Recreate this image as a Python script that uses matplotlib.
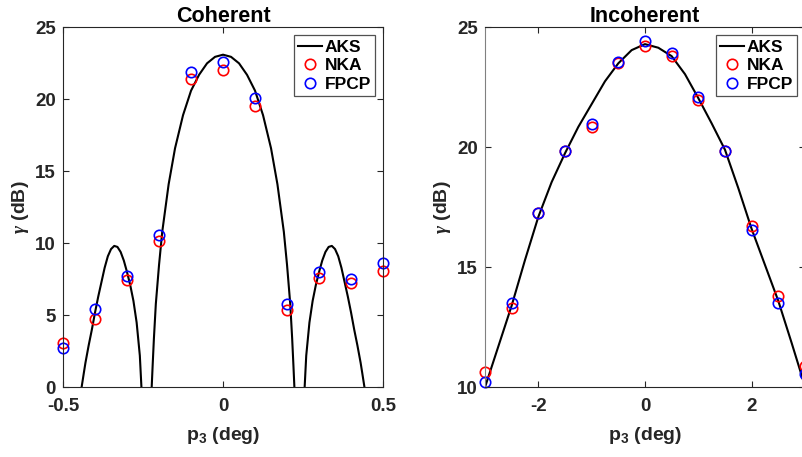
import numpy as np
import matplotlib
matplotlib.use("Agg")
import matplotlib.pyplot as plt

# ---- data ----
# Coherent panel: AKS curve (lobes; values below 0 are clipped by the axis)
aks_coh_x = [-0.446, -0.442, -0.435, -0.43, -0.42, -0.41, -0.40, -0.39, -0.38, -0.37,
             -0.36, -0.35, -0.34, -0.33, -0.32, -0.31, -0.30, -0.29, -0.28, -0.27,
             -0.26, -0.255, -0.252,
             -0.226, -0.223, -0.22, -0.216, -0.21, -0.20, -0.19, -0.17, -0.15, -0.125,
             -0.10, -0.075, -0.05, -0.025, 0.0, 0.025, 0.05, 0.075, 0.10, 0.125, 0.15,
             0.17, 0.19, 0.20, 0.21, 0.216, 0.22, 0.223, 0.226,
             0.252, 0.255, 0.26, 0.27, 0.28, 0.29, 0.30, 0.31, 0.32, 0.33, 0.34, 0.35,
             0.36, 0.37, 0.38, 0.39, 0.40, 0.41, 0.42, 0.43, 0.435, 0.442, 0.446]
aks_coh_y = [-3.0, 0.0, 1.0, 1.7, 2.9, 4.0, 5.2, 6.3, 7.3, 8.3,
             9.1, 9.6, 9.82, 9.75, 9.4, 8.8, 8.0, 7.1, 6.0, 4.5,
             2.2, 0.0, -3.0,
             -3.0, 0.0, 1.5, 3.4, 5.8, 8.5, 10.8, 14.1, 16.6, 18.9,
             20.6, 21.7, 22.5, 22.95, 23.1, 22.95, 22.5, 21.7, 20.6, 18.9, 16.6,
             14.1, 10.8, 8.5, 5.8, 3.4, 1.5, 0.0, -3.0,
             -3.0, 0.0, 2.2, 4.5, 6.0, 7.1, 8.0, 8.8, 9.4, 9.75, 9.82, 9.6,
             9.1, 8.3, 7.3, 6.3, 5.2, 4.0, 2.9, 1.7, 1.0, 0.0, -3.0]

coh_x = [-0.5, -0.4, -0.3, -0.2, -0.1, 0.0, 0.1, 0.2, 0.3, 0.4, 0.5]
coh_nka = [3.05, 4.76, 7.45, 10.16, 21.41, 22.06, 19.53, 5.37, 7.61, 7.22, 8.10]
coh_fpcp = [2.72, 5.41, 7.75, 10.58, 21.87, 22.61, 20.11, 5.76, 7.98, 7.54, 8.61]

# Incoherent panel
aks_inc_x = [-3.0, -2.75, -2.5, -2.25, -2.0, -1.75, -1.5, -1.25, -1.0, -0.75, -0.5, -0.25,
             0.0, 0.25, 0.5, 0.75, 1.0, 1.25, 1.5, 1.75, 2.0, 2.25, 2.5, 2.75, 3.0]
aks_inc_y = [10.0, 11.7, 13.4, 15.3, 17.1, 18.55, 19.75, 20.85, 21.8, 22.75, 23.5, 24.05,
             24.3, 24.15, 23.8, 23.05, 22.05, 21.0, 19.9, 18.3, 16.6, 15.1, 13.6, 11.85, 10.05]

inc_x = [-3.0, -2.5, -2.0, -1.5, -1.0, -0.5, 0.0, 0.5, 1.0, 1.5, 2.0, 2.5, 3.0]
inc_nka = [10.65, 13.29, 17.25, 19.85, 20.83, 23.53, 24.22, 23.82, 21.97, 19.85, 16.72, 13.82, 10.9]
inc_fpcp = [10.23, 13.5, 17.28, 19.85, 20.96, 23.57, 24.43, 23.92, 22.1, 19.86, 16.55, 13.5, 10.54]

# ---- style ----
plt.rcParams['font.family'] = ['Liberation Sans', 'DejaVu Sans']
plt.rcParams['font.weight'] = 'bold'
plt.rcParams['mathtext.fontset'] = 'custom'
plt.rcParams['mathtext.rm'] = 'Liberation Sans:bold'
plt.rcParams['mathtext.bf'] = 'Liberation Sans:bold'
plt.rcParams['mathtext.it'] = 'Liberation Serif:italic'

dark = '#262626'
fig = plt.figure(figsize=(8.02, 4.57), dpi=100)
ax1 = fig.add_axes([0.0786, 0.1525, 0.399, 0.7877])
ax2 = fig.add_axes([0.6047, 0.1525, 0.399, 0.7877])


def draw(ax, cx, cy, mx, nka, fpcp, title):
    ax.plot(cx, cy, color='black', lw=1.5, label='AKS')
    ax.plot(mx, nka, 'o', mfc='none', mec='red', ms=7.5, mew=1.2, label='NKA', clip_on=False)
    ax.plot(mx, fpcp, 'o', mfc='none', mec='blue', ms=7.5, mew=1.2, label='FPCP', clip_on=False)
    ax.set_title(title, fontsize=15.5, fontweight='bold', pad=3.5)
    ax.set_xlabel(r'$\mathregular{p_3}$ (deg)', fontsize=14, fontweight='bold',
                  color=dark, labelpad=7)
    ax.set_ylabel(r'$\gamma$ (dB)', fontsize=14, fontweight='bold', color=dark, labelpad=3)
    ax.tick_params(direction='in', top=True, right=True, length=4, width=0.8,
                   labelsize=13.5, colors=dark)
    ax.tick_params(axis='x', pad=8)
    ax.tick_params(axis='y', pad=5)
    for s in ax.spines.values():
        s.set_color(dark)
        s.set_linewidth(0.8)
    leg = ax.legend(loc='upper right', fontsize=12.5, frameon=True, fancybox=False,
                    borderpad=0.25, labelspacing=0.2, handlelength=1.35,
                    handletextpad=0.15, borderaxespad=0.45)
    leg.get_frame().set_edgecolor(dark)
    leg.get_frame().set_linewidth(0.9)
    for t in leg.get_texts():
        t.set_fontweight('bold')


draw(ax1, aks_coh_x, aks_coh_y, coh_x, coh_nka, coh_fpcp, 'Coherent')
ax1.set_xlim(-0.5, 0.5)
ax1.set_ylim(0, 25)
ax1.set_xticks([-0.5, 0, 0.5])
ax1.set_xticklabels(['-0.5', '0', '0.5'])
ax1.set_yticks([0, 5, 10, 15, 20, 25])

draw(ax2, aks_inc_x, aks_inc_y, inc_x, inc_nka, inc_fpcp, 'Incoherent')
ax2.set_xlim(-3, 3)
ax2.set_ylim(10, 25)
ax2.set_xticks([-2, 0, 2])
ax2.set_xticklabels(['-2', '0', '2'])
ax2.set_yticks([10, 15, 20, 25])
ax2.spines['left'].set_color('#808080')

fig.savefig('out.png', dpi=100)
